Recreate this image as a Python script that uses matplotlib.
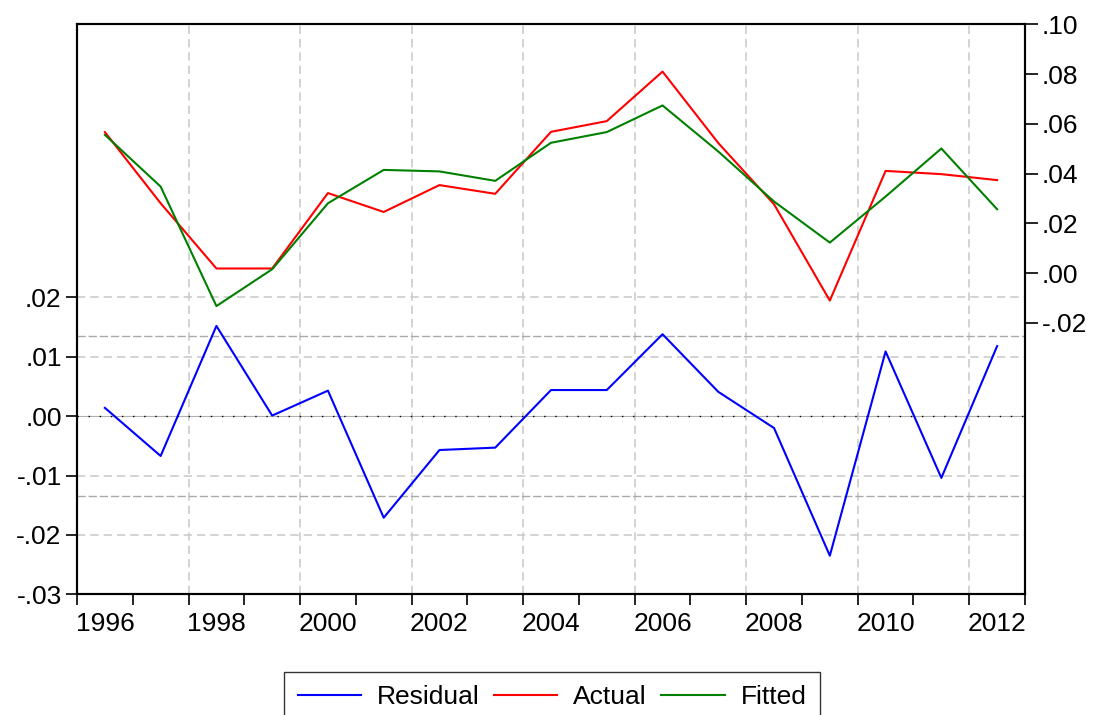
import matplotlib.pyplot as plt
import numpy as np
from matplotlib.ticker import FixedLocator, FuncFormatter

plt.rcParams['font.family'] = ['Liberation Sans', 'DejaVu Sans']

# annual data, 1996-2012
years = np.arange(1996, 2013)
residual = [0.0014, -0.0067, 0.0152, 0.0001, 0.0043, -0.0171, -0.0057, -0.0053,
            0.0044, 0.0044, 0.0138, 0.0041, -0.0020, -0.0235, 0.0109, -0.0104, 0.0118]
actual = [0.0567, 0.0281, 0.0019, 0.0019, 0.0322, 0.0246, 0.0354, 0.0319,
          0.0568, 0.0611, 0.0810, 0.0523, 0.0277, -0.0110, 0.0411, 0.0398, 0.0374]
fitted = [0.0556, 0.0348, -0.0132, 0.0016, 0.0281, 0.0415, 0.0409, 0.0371,
          0.0524, 0.0567, 0.0674, 0.0489, 0.0288, 0.0123, 0.0308, 0.0501, 0.0257]
sigma = 0.0135
left_ticks = [-0.03, -0.02, -0.01, 0.00, 0.01, 0.02]
right_ticks = [-0.02, 0.00, 0.02, 0.04, 0.06, 0.08, 0.10]
label_years = [1996, 1998, 2000, 2002, 2004, 2006, 2008, 2010, 2012]

def fmt(v, pos=None):
    s = '%.2f' % v
    if s.startswith('-0'):
        return '-' + s[2:]
    if s.startswith('0'):
        return s[1:]
    return s

FS = 19

fig = plt.figure(figsize=(10.95, 7.15), dpi=100)
ax = fig.add_axes([77/1095, 1-594.3/715, (1025-77)/1095, (594.3-24.3)/715])
ax2 = ax.twinx()

x = years + 0.5  # points sit mid-year

# grid
for v in [-0.02, -0.01, 0.01, 0.02]:
    ax.axhline(v, color='#cccccc', lw=1.2, ls=(0, (5, 3)), zorder=0)
for y in range(1998, 2013, 2):
    ax.axvline(y, color='#cccccc', lw=1.2, ls=(0, (5, 3)), zorder=0)
ax.axhline(sigma, color='#aaaaaa', lw=1.0, ls=(0, (6, 2)), zorder=0)
ax.axhline(-sigma, color='#aaaaaa', lw=1.0, ls=(0, (6, 2)), zorder=0)
ax.axhline(0, color='#b0b0b0', lw=0.8, zorder=0)
ax.axhline(0, color='black', lw=1.0, ls=(0, (1, 7)), zorder=1)

l1, = ax.plot(x, residual, color='#0000ff', lw=1.5, label='Residual', zorder=3)
l2, = ax2.plot(x, actual, color='#ff0000', lw=1.5, label='Actual', zorder=3)
l3, = ax2.plot(x, fitted, color='#008000', lw=1.5, label='Fitted', zorder=3)

ax.set_xlim(1996, 2013)
ax.set_ylim(-0.03, 0.066)
ax2.set_ylim(-0.129, 0.10)

ax.yaxis.set_major_locator(FixedLocator(left_ticks))
ax.yaxis.set_major_formatter(FuncFormatter(fmt))
ax2.yaxis.set_major_locator(FixedLocator(right_ticks))
ax2.yaxis.set_major_formatter(FuncFormatter(fmt))

ax.xaxis.set_major_locator(FixedLocator(list(range(1996, 2014))))
ax.xaxis.set_major_formatter(FuncFormatter(lambda v, p: ''))
ax.xaxis.set_minor_locator(FixedLocator([y + 0.5 for y in label_years]))
ax.xaxis.set_minor_formatter(FuncFormatter(lambda v, p: str(int(v))))

ax.tick_params(axis='x', which='major', length=8, width=1.2, direction='out')
ax.tick_params(axis='x', which='minor', length=0, pad=13, labelsize=FS)
ax.tick_params(axis='y', length=8, width=1.2, pad=3, labelsize=FS)
ax2.tick_params(axis='y', length=9, width=1.2, pad=3, labelsize=FS)

for a in (ax, ax2):
    for s in a.spines.values():
        s.set_linewidth(1.5)

leg = fig.legend(handles=[l1, l2, l3], loc='upper center',
                 bbox_to_anchor=(552/1095, 1-672/715), ncol=3, fontsize=FS,
                 frameon=True, fancybox=False, edgecolor='black',
                 handlelength=2.4, columnspacing=0.55, handletextpad=0.6,
                 borderpad=0.5, borderaxespad=0)
leg.get_frame().set_linewidth(1.0)

fig.savefig('out.png', dpi=100)
